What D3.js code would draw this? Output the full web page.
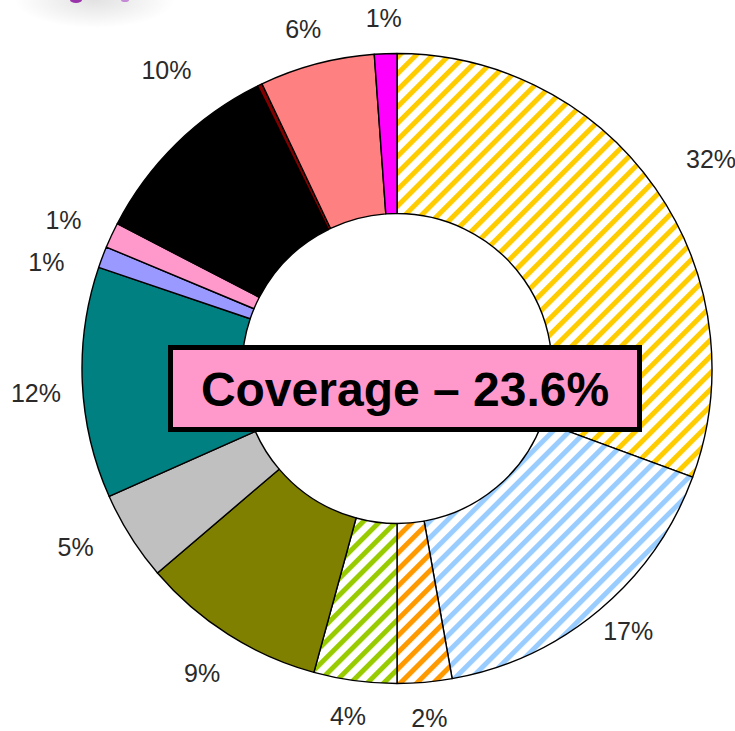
<!DOCTYPE html>
<html>
<head>
<meta charset="utf-8">
<script src="https://cdn.jsdelivr.net/npm/d3@7"></script>
<style>
    body { margin: 0; background: white; }
    svg { display: block; }
</style>
</head>
<body>
<div id="chart"></div>
<script>
// slices, clockwise from 12 o'clock
let categories = ["A", "B", "C", "D", "E", "F", "G", "H", "I", "J", "K", "L", "M"];
let shares = [30.6, 16.6, 2.8, 4.25, 9.5, 4.6, 11.85, 1.1, 1.3, 10.1, 0.25, 5.9, 1.15];
let labels = ["32%", "17%", "2%", "4%", "9%", "5%", "12%", "1%", "1%", "10%", "", "6%", "1%"];
let colors = ["#ffcc00", "#99ccff", "#ff9900", "#99cc00", "#808000", "#c0c0c0", "#008080",
    "#9999ff", "#ff99cc", "#000000", "#800000", "#ff8080", "#ff00ff"];
let hatched = [true, true, true, true, false, false, false, false, false, false, false, false, false];
let title = "Coverage \u2013 23.6%";

let _default = {
    width: 735,
    height: 731,
    cx: 397,
    cy: 368.5,
    outer: 315,
    inner: 155,
    label_rx: 368,
    label_ry: 351,
    stroke: "black"
};
// label tweaks (degrees, px) where the original moved a label off the slice middle
let label_nudge = {0: [0, 15], 1: [0, -8], 4: [-1, 6], 5: [2, 4], 6: [-1.5, -6], 7: [-3, 0], 9: [8, 20]};

let svg = d3.select("div#chart")
    .append("svg")
    .attr("width", _default.width)
    .attr("height", _default.height);

let defs = svg.append("defs");

// faint logo remnant in the corner
let grad = defs.append("radialGradient").attr("id", "shade");
grad.append("stop").attr("offset", "0%").attr("stop-color", "#e2e2e2");
grad.append("stop").attr("offset", "100%").attr("stop-color", "#ffffff");
svg.append("ellipse")
    .attr("cx", 95).attr("cy", 0).attr("rx", 80).attr("ry", 28)
    .attr("fill", "url(#shade)");
svg.append("ellipse").attr("cx", 76).attr("cy", 0).attr("rx", 6).attr("ry", 3).attr("fill", "#9933aa");
svg.append("ellipse").attr("cx", 125).attr("cy", 0).attr("rx", 4).attr("ry", 2).attr("fill", "#c58ad6");

colors.forEach((c, i) => {
    if (!hatched[i]) return;
    let p = defs.append("pattern")
        .attr("id", "hatch" + i)
        .attr("patternUnits", "userSpaceOnUse")
        .attr("width", 11.7)
        .attr("height", 11.7)
        .attr("patternTransform", "rotate(45)");
    p.append("rect").attr("width", 11.7).attr("height", 11.7).attr("fill", "white");
    p.append("rect").attr("width", 5).attr("height", 11.7).attr("fill", c);
});

let pie = d3.pie().sort(null).value(d => d)(shares);
let arc = d3.arc().innerRadius(_default.inner).outerRadius(_default.outer);

let g = svg.append("g")
    .attr("transform", `translate(${_default.cx}, ${_default.cy})`);

g.selectAll("path").data(pie).enter().append("path")
    .attr("d", arc)
    .attr("fill", (d, i) => hatched[i] ? `url(#hatch${i})` : colors[i])
    .attr("stroke", _default.stroke)
    .attr("stroke-width", 1.4)
    .attr("stroke-linejoin", "round");

g.selectAll("text.lbl").data(pie).enter().append("text")
    .attr("class", "lbl")
    .attr("transform", (d, i) => {
        let n = label_nudge[i] || [0, 0];
        let a = (d.startAngle + d.endAngle) / 2 + n[0] * Math.PI / 180;
        let x = (_default.label_rx + n[1]) * Math.sin(a);
        let y = -(_default.label_ry + n[1]) * Math.cos(a);
        return `translate(${x}, ${y})`;
    })
    .attr("text-anchor", "middle")
    .attr("dominant-baseline", "central")
    .attr("font-family", "'Liberation Sans', Arial, sans-serif")
    .attr("font-size", 25)
    .attr("fill", "#2a2a2a")
    .text((d, i) => labels[i]);

// title box in the middle
svg.append("rect")
    .attr("x", 170.5)
    .attr("y", 347.5)
    .attr("width", 469)
    .attr("height", 82)
    .attr("fill", "#ff99cc")
    .attr("stroke", "black")
    .attr("stroke-width", 5);
svg.append("text")
    .attr("x", 405)
    .attr("y", 406)
    .attr("text-anchor", "middle")
    .attr("font-family", "'Liberation Sans', Arial, sans-serif")
    .attr("font-weight", "bold")
    .attr("font-size", 48)
    .attr("fill", "black")
    .text(title);
</script>
</body>
</html>
